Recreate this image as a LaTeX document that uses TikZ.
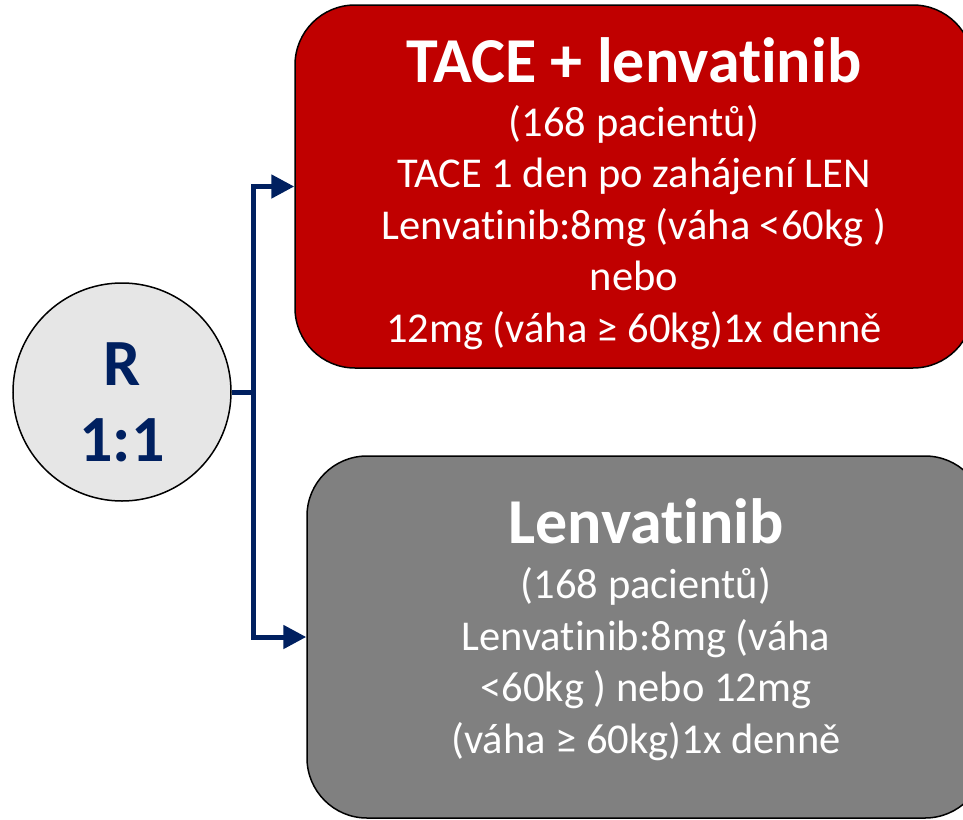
\documentclass[tikz,border=0pt]{standalone}
\usepackage{fontspec}
\setmainfont[Ligatures=NoCommon]{Carlito}
\usetikzlibrary{arrows.meta, positioning, calc}
\definecolor{navy}{HTML}{002060}
\definecolor{armred}{HTML}{C00000}
\definecolor{armgray}{HTML}{808080}
\definecolor{rndfill}{HTML}{E6E6E6}

\begin{document}
\begin{tikzpicture}[x=1pt, y=-1pt,
            rnd/.style={circle, draw=black, line width=1.5pt, fill=rndfill, minimum size=218pt, inner sep=0pt},
            arm/.style={draw=black, line width=1.5pt, rounded corners=60pt, inner sep=0pt},
            ttl/.style={anchor=base, text=white, font=\bfseries\fontsize{64}{70}\selectfont},
            bdy/.style={anchor=base, text=white, align=center, font=\fontsize{42.5}{51.5}\selectfont},
            rlab/.style={anchor=base, text=navy, font=\bfseries\fontsize{66}{76}\selectfont},
            conn/.style={draw=navy, line width=5pt}]
            \useasboundingbox (0,0) rectangle (963,819);
            % randomisation circle
            \node[rnd] (R) at (122,392) {};
            \node[rlab] (rtop) at (122,385) {R};
            \node[rlab] (rbot) at (122,461) {1:1};
            % the two arms
            \node[arm, fill=armred, minimum width=678pt, minimum height=363pt] (tace) at (634,186.5) {};
            \node[arm, fill=armgray, minimum width=678pt, minimum height=362pt] (lenv) at (646,637) {};
            \node[ttl] (tacettl) at (634,82) {TACE + lenvatinib};
            \node[bdy] (tacebdy) at (634,342) {(168 pacientů)\\TACE 1 den po zahájení LEN\\Lenvatinib:8mg (váha <60kg )\\nebo\\12mg (váha ≥ 60kg)1x denně};
            \node[ttl] (lenvttl) at (646,543) {Lenvatinib};
            \node[bdy] (lenvbdy) at (646,753) {(168 pacientů)\\Lenvatinib:8mg (váha\\<60kg ) nebo 12mg\\(váha ≥ 60kg)1x denně};
            % connectors
            \draw[conn] (R.east) -- ++(22,0) coordinate (split);
            \draw[conn, -{Triangle[length=23pt, width=23pt]}] (split) |- (tace.west);
            \draw[conn, -{Triangle[length=23pt, width=23pt]}] (split) |- (lenv.west);
        \end{tikzpicture}
\end{document}
